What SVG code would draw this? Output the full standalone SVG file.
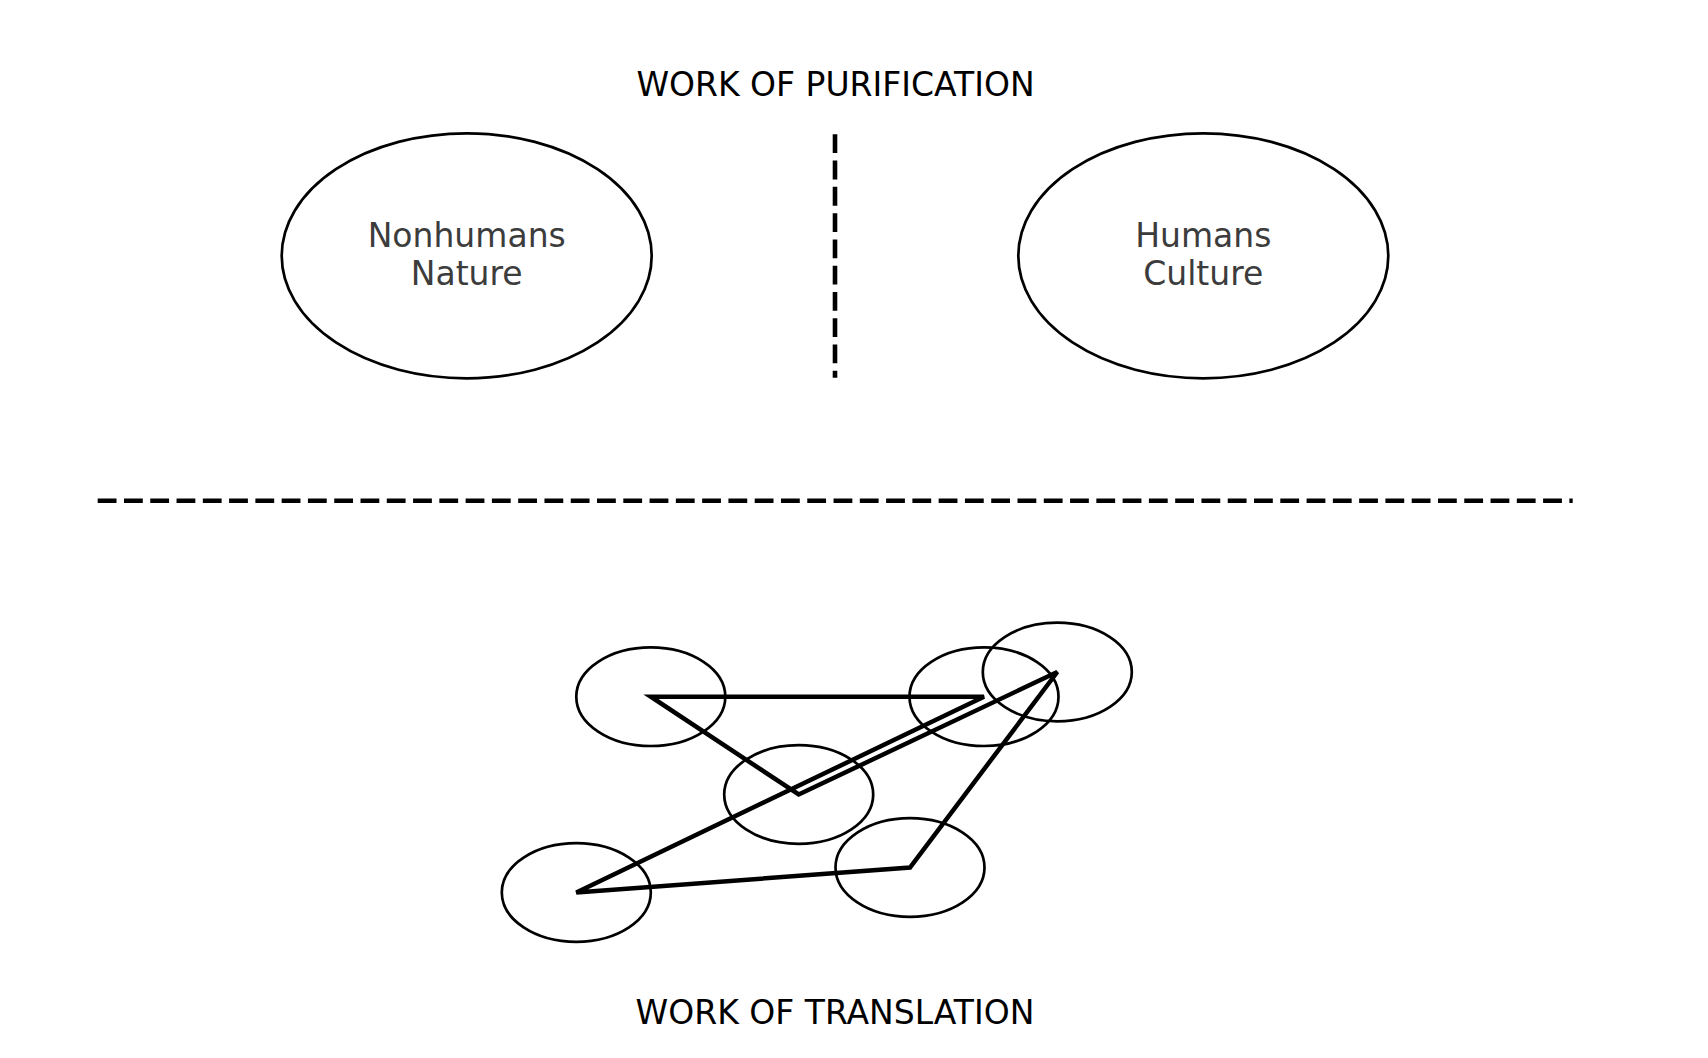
<svg xmlns="http://www.w3.org/2000/svg" width="1708" height="1058" viewBox="0 0 1708 1058">
<style>
.bg{fill:#ffffff}
.title{font-family:"DejaVu Sans","Liberation Sans",sans-serif;font-size:33px;fill:#000000;text-anchor:middle}
.label{font-family:"DejaVu Sans","Liberation Sans",sans-serif;font-size:33px;fill:#3c3c3c;text-anchor:middle}
.big{fill:none;stroke:#000000;stroke-width:2.7}
.small{fill:none;stroke:#000000;stroke-width:2.7}
.dash{fill:none;stroke:#000000;stroke-width:4.6;stroke-dasharray:18.8 7.48}
.link{fill:none;stroke:#000000;stroke-width:4.5}
</style>
<rect class="bg" x="0" y="0" width="1708" height="1058"/>
<text id="title-purification" class="title" x="835.5" y="95.7">WORK OF PURIFICATION</text>
<g id="nonhumans">
<ellipse class="big" cx="466.7" cy="255.8" rx="185" ry="122.5"/>
<text class="label" x="466.7" y="246.7">Nonhumans</text>
<text class="label" x="466.7" y="285">Nature</text>
</g>
<g id="humans">
<ellipse class="big" cx="1203.3" cy="255.8" rx="185" ry="122.5"/>
<text class="label" x="1203.3" y="246.7">Humans</text>
<text class="label" x="1203.3" y="285">Culture</text>
</g>
<g id="dividers">
<line class="dash" x1="835" y1="134.3" x2="835" y2="377.7"/>
<line class="dash" x1="97.7" y1="500.7" x2="1572.7" y2="500.7"/>
</g>
<g id="node-a"><ellipse class="small" cx="650.8" cy="696.7" rx="74.5" ry="49.3"/></g>
<g id="node-e"><ellipse class="small" cx="984" cy="696.7" rx="74.5" ry="49.3"/></g>
<g id="node-f"><ellipse class="small" cx="1057.3" cy="672" rx="74.5" ry="49.3"/></g>
<g id="node-b"><ellipse class="small" cx="798.7" cy="794.5" rx="74.5" ry="49.3"/></g>
<g id="node-c"><ellipse class="small" cx="576.3" cy="892.5" rx="74.5" ry="49.3"/></g>
<g id="node-d"><ellipse class="small" cx="910" cy="867.5" rx="74.5" ry="49.3"/></g>
<g id="connectors">
<polygon class="link" points="650.8,696.7 984,696.7 576.3,892.5 910,867.5 1057.3,672 798.7,794.5"/>
</g>
<text id="title-translation" class="title" x="835" y="1024">WORK OF TRANSLATION</text>
</svg>
